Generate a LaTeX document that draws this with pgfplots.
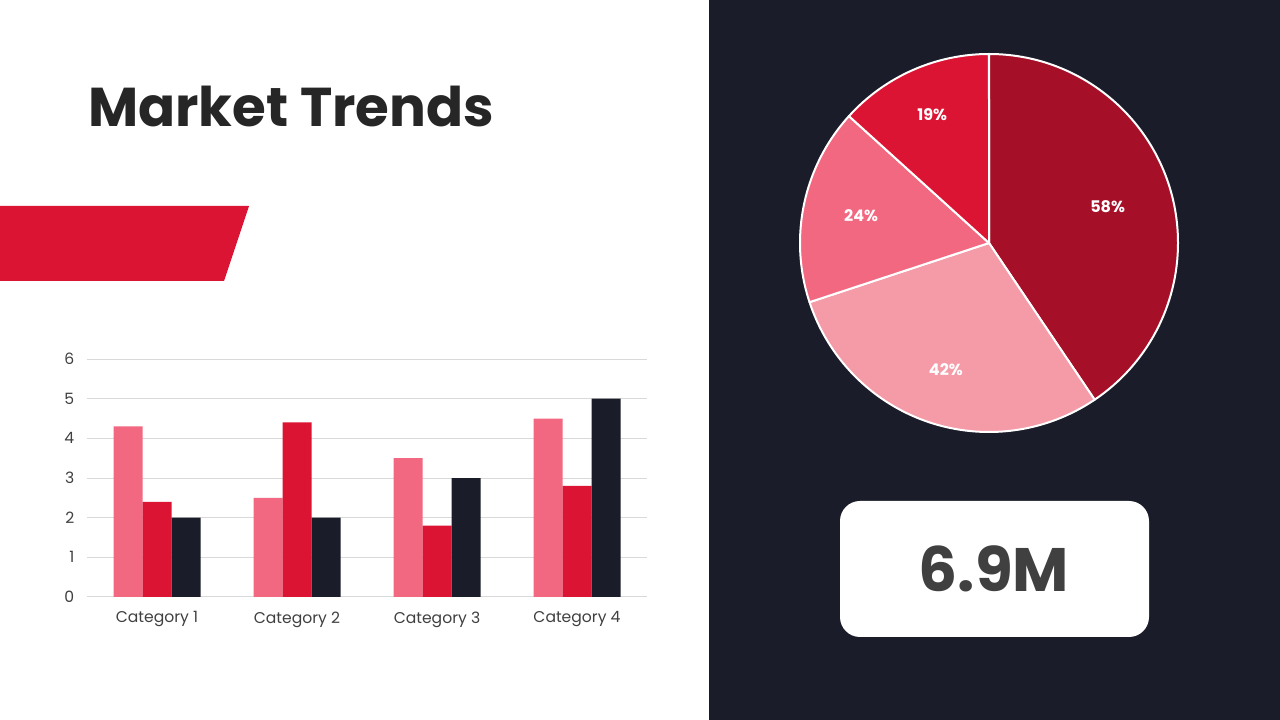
\documentclass[border=0pt]{standalone}
\usepackage{fontspec}
\setmainfont{Poppins}
\usepackage{pgfplots}
\pgfplotsset{compat=1.18}
\usepackage{pgfplotstable}
\definecolor{navy}{HTML}{1A1D29}
\definecolor{redA}{HTML}{DC1433}
\definecolor{pinkA}{HTML}{F26880}
\definecolor{pieA}{HTML}{A60F28}
\definecolor{pieB}{HTML}{F59BA8}
\definecolor{pieC}{HTML}{F26880}
\definecolor{pieD}{HTML}{DC1433}
\definecolor{gridgray}{HTML}{D9D9D9}
\definecolor{labgray}{HTML}{404040}
\definecolor{titlegray}{HTML}{262626}
\definecolor{numgray}{HTML}{404040}

\pgfplotstableread{
cat s1 s2 s3
1 4.3 2.4 2
2 2.5 4.4 2
3 3.5 1.8 3
4 4.5 2.8 5
}\bardata

\pgfplotstableread{
value
58
42
24
19
}\piedata

\begin{document}
\pgfplotstablegetelem{0}{value}\of\piedata\edef\va{\pgfplotsretval}%
\pgfplotstablegetelem{1}{value}\of\piedata\edef\vb{\pgfplotsretval}%
\pgfplotstablegetelem{2}{value}\of\piedata\edef\vc{\pgfplotsretval}%
\pgfplotstablegetelem{3}{value}\of\piedata\edef\vd{\pgfplotsretval}%
\pgfmathsetmacro\tot{\va+\vb+\vc+\vd}%
\pgfmathsetmacro\aA{90}%
\pgfmathsetmacro\aB{\aA-360*(\va/\tot)}%
\pgfmathsetmacro\aC{\aB-360*(\vb/\tot)}%
\pgfmathsetmacro\aD{\aC-360*(\vc/\tot)}%
\pgfmathsetmacro\aE{\aD-360*(\vd/\tot)}%
\pgfmathsetmacro\mA{(\aA+\aB)/2}%
\pgfmathsetmacro\mB{(\aB+\aC)/2}%
\pgfmathsetmacro\mC{(\aC+\aD)/2}%
\pgfmathsetmacro\mD{(\aD+\aE)/2}%
\begin{tikzpicture}[x=0.75pt,y=0.75pt]
\useasboundingbox (0,0) rectangle (1280,720);
\fill[white] (0,0) rectangle (709,720);
\fill[navy] (709,0) rectangle (1280,720);
\fill[redA] (0,514) -- (249,514) -- (224,439) -- (0,439) -- cycle;
\node[anchor=base west, inner sep=0, font=\fontsize{41}{49}\selectfont\bfseries, text=titlegray] at (88,593) {Market Trends};

\begin{axis}[at={(65.25pt,92.25pt)}, anchor=south west, scale only axis,
  width=420pt, height=178.5pt,
  ybar=0pt, bar width=21.75pt,
  xmin=0.5, xmax=4.5, ymin=0, ymax=6,
  xtick={1,2,3,4}, xticklabels={Category 1,Category 2,Category 3,Category 4},
  ytick={0,1,...,6},
  ymajorgrids, grid style={draw=gridgray, line width=0.75pt},
  axis line style={draw=none}, major tick length=0pt,
  tick label style={font=\fontsize{11.7}{14}\selectfont, text=labgray},
  /pgf/number format/assume math mode=true,
  xticklabel style={yshift=-7.5pt}, yticklabel style={xshift=-6pt}]
\addplot[fill=pinkA, draw=none] table[x=cat,y=s1]{\bardata};
\addplot[fill=redA, draw=none] table[x=cat,y=s2]{\bardata};
\addplot[fill=navy, draw=none] table[x=cat,y=s3]{\bardata};
\end{axis}

\begin{axis}[at={(741.75pt,357.75pt)}, anchor=center, x=0.75pt, y=0.75pt,
  disabledatascaling, xmin=-200, xmax=200, ymin=-200, ymax=200,
  hide axis, clip=false]
\fill[pieA, draw=white, line width=1.5pt, line join=round] (axis cs:0,0) -- ++(\aA:141.75pt) arc[start angle=\aA, end angle=\aB, radius=141.75pt] -- cycle;
\fill[pieB, draw=white, line width=1.5pt, line join=round] (axis cs:0,0) -- ++(\aB:141.75pt) arc[start angle=\aB, end angle=\aC, radius=141.75pt] -- cycle;
\fill[pieC, draw=white, line width=1.5pt, line join=round] (axis cs:0,0) -- ++(\aC:141.75pt) arc[start angle=\aC, end angle=\aD, radius=141.75pt] -- cycle;
\fill[pieD, draw=white, line width=1.5pt, line join=round] (axis cs:0,0) -- ++(\aD:141.75pt) arc[start angle=\aD, end angle=\aE, radius=141.75pt] -- cycle;
\path (axis cs:0,0) ++(\mA:93pt) node[font=\fontsize{12}{14}\selectfont\bfseries, text=white]{\va\%};
\path (axis cs:0,0) ++(\mB:100pt) node[font=\fontsize{12}{14}\selectfont\bfseries, text=white]{\vb\%};
\path (axis cs:0,0) ++(\mC:98pt) node[font=\fontsize{12}{14}\selectfont\bfseries, text=white]{\vc\%};
\path (axis cs:0,0) ++(\mD:105pt) node[font=\fontsize{12}{14}\selectfont\bfseries, text=white]{\vd\%};
\end{axis}

\fill[white, rounded corners=15pt] (840,83) rectangle (1149,219);
\node[anchor=base, inner sep=0, font=\fontsize{46}{55}\selectfont\bfseries, text=numgray] at (994,128) {6.9M};
\end{tikzpicture}
\end{document}
